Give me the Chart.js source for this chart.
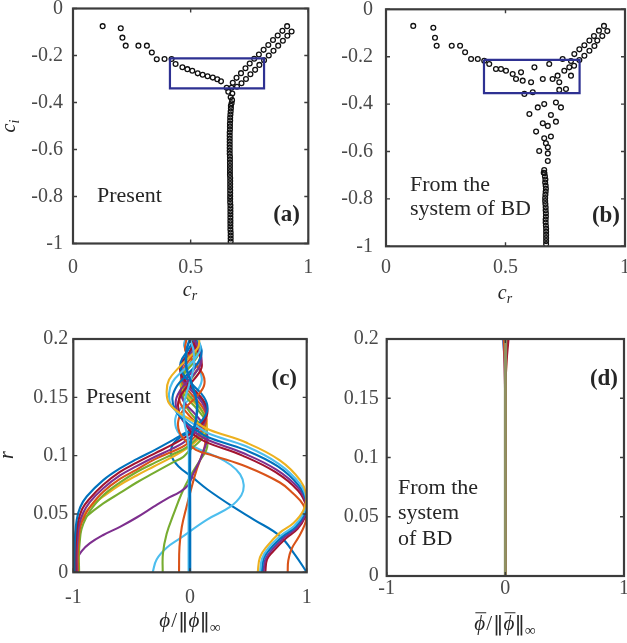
<!DOCTYPE html>
<html><head><meta charset="utf-8">
<script src="https://cdn.jsdelivr.net/npm/chart.js@4.4.1/dist/chart.umd.min.js"></script>
<style>
html,body{margin:0;padding:0;background:#fff;width:627px;height:643px;overflow:hidden;position:relative}
canvas{position:absolute;left:-20px;top:-20px;width:667px;height:683px}
</style></head><body>
<canvas id="pa" width="667" height="683"></canvas>
<canvas id="pb" width="667" height="683"></canvas>
<canvas id="pc" width="667" height="683"></canvas>
<canvas id="pd" width="667" height="683"></canvas>
<script>
// ---------- tick values / labels ----------
const crTicks = [0, 0.5, 1];
const crLabels = ['0', '0.5', '1'];
const ciTicks = [-1, -0.8, -0.6, -0.4, -0.2, 0];
const ciLabels = ['-1', '-0.8', '-0.6', '-0.4', '-0.2', '0'];
const phiTicks = [-1, 0, 1];
const phiLabels = ['-1', '0', '1'];
const rTicks = [0, 0.05, 0.1, 0.15, 0.2];
const rLabels = ['0', '0.05', '0.1', '0.15', '0.2'];

// ---------- panel (a): eigenvalues, present ----------
const specA_branch = [[0.126,-0.075],[0.203,-0.084],[0.21,-0.124],[0.224,-0.158],[0.278,-0.158],[0.314,-0.158],[0.335,-0.187],[0.356,-0.216],[0.389,-0.215],[0.419,-0.215],[0.436,-0.236],[0.465,-0.25],[0.486,-0.258],[0.507,-0.265],[0.53,-0.276],[0.551,-0.282],[0.572,-0.288],[0.594,-0.294],[0.613,-0.301],[0.629,-0.31],[0.653,-0.337],[0.674,-0.337],[0.66,-0.354],[0.677,-0.362],[0.67,-0.378],[0.676,-0.39],[0.674,-0.403],[0.671,-0.414]];
const specA_arm1 = [[0.679,-0.316],[0.695,-0.295],[0.714,-0.275],[0.733,-0.254],[0.751,-0.234],[0.770,-0.214],[0.790,-0.196],[0.810,-0.176],[0.830,-0.155],[0.850,-0.134],[0.870,-0.115],[0.890,-0.095],[0.910,-0.075]];
const specA_arm2 = [[0.697,-0.333],[0.716,-0.318],[0.735,-0.300],[0.754,-0.280],[0.774,-0.261],[0.792,-0.240],[0.812,-0.220],[0.832,-0.200],[0.852,-0.180],[0.872,-0.158],[0.892,-0.137],[0.911,-0.116],[0.929,-0.098]];
const specA_colCr = [0.671,0.670,0.669,0.668,0.668,0.667,0.667,0.667,0.666,0.666,0.666,0.666,0.666,0.666,0.666,0.666,0.667,0.667,0.667,0.667,0.667,0.667,0.667,0.668,0.668,0.668,0.668,0.668,0.668,0.668,0.668,0.668,0.669,0.669,0.669,0.669,0.669,0.669,0.669,0.669,0.669,0.670,0.670,0.670,0.670];
const specA_colCi = [-0.425,-0.438,-0.451,-0.464,-0.477,-0.490,-0.502,-0.515,-0.528,-0.541,-0.554,-0.567,-0.580,-0.593,-0.605,-0.618,-0.631,-0.644,-0.657,-0.670,-0.683,-0.696,-0.708,-0.721,-0.734,-0.747,-0.760,-0.773,-0.786,-0.799,-0.811,-0.824,-0.837,-0.850,-0.863,-0.876,-0.889,-0.902,-0.914,-0.927,-0.940,-0.953,-0.966,-0.979,-0.992];
const boxA_cr = [0.412, 0.812];
const boxA_ci = [-0.212, -0.340];

// ---------- panel (b): eigenvalues, system of BD ----------
const specB_scatter = [[0.114,-0.070],[0.198,-0.078],[0.205,-0.120],[0.212,-0.154],[0.275,-0.154],[0.310,-0.154],[0.331,-0.181],[0.356,-0.210],[0.384,-0.210],[0.411,-0.217],[0.432,-0.231],[0.460,-0.252],[0.481,-0.252],[0.502,-0.259],[0.530,-0.273],[0.565,-0.266],[0.544,-0.294],[0.572,-0.301],[0.607,-0.308],[0.621,-0.245],[0.656,-0.294],[0.683,-0.231],[0.697,-0.294],[0.718,-0.280],[0.725,-0.308],[0.739,-0.210],[0.746,-0.259],[0.767,-0.245],[0.774,-0.280],[0.774,-0.218],[0.787,-0.238],[0.579,-0.357],[0.614,-0.350],[0.725,-0.340],[0.753,-0.336],[0.635,-0.414],[0.662,-0.400],[0.711,-0.393],[0.732,-0.414],[0.600,-0.442],[0.690,-0.446],[0.656,-0.481],[0.677,-0.492],[0.711,-0.474],[0.628,-0.516],[0.662,-0.544],[0.690,-0.537],[0.669,-0.565],[0.677,-0.582],[0.641,-0.598],[0.677,-0.608],[0.677,-0.640],[0.662,-0.678],[0.660,-0.690]];
const specB_arm1 = [[0.788,-0.189],[0.809,-0.169],[0.830,-0.152],[0.851,-0.132],[0.870,-0.113],[0.891,-0.090],[0.912,-0.070]];
const specB_arm2 = [[0.809,-0.214],[0.830,-0.196],[0.851,-0.175],[0.872,-0.155],[0.884,-0.132],[0.905,-0.113],[0.926,-0.092]];
const specB_colCr = [0.663,0.665,0.667,0.666,0.668,0.669,0.668,0.667,0.666,0.666,0.667,0.668,0.668,0.669,0.669,0.668,0.668,0.669,0.670,0.670,0.670,0.670,0.670,0.670];
const specB_colCi = [-0.692,-0.705,-0.718,-0.731,-0.744,-0.757,-0.770,-0.783,-0.796,-0.809,-0.822,-0.835,-0.848,-0.861,-0.874,-0.887,-0.900,-0.913,-0.926,-0.939,-0.952,-0.965,-0.978,-0.991];
const boxB_cr = [0.410, 0.810];
const boxB_ci = [-0.213, -0.354];

// ---------- panel (c): eigenfunctions, present  [phi, r] ----------
const cR1_yellow = [[0.58,0],[0.6,0.013],[0.657,0.022],[0.771,0.034],[0.885,0.042],[0.971,0.053],[0.998,0.065],[0.943,0.079],[0.77,0.096],[0.486,0.111],[0.17,0.122],[0.06,0.128],[-0.08,0.136],[-0.18,0.145],[-0.2,0.155],[-0.18,0.165],[-0.1,0.175],[0.0,0.185],[0.07,0.193],[0.08,0.2]];
const cR2_lblue = [[0.6,0],[0.618,0.012],[0.672,0.021],[0.784,0.032],[0.895,0.04],[0.975,0.051],[0.998,0.062],[0.94,0.076],[0.76,0.093],[0.48,0.108],[0.16,0.119],[0.05,0.126],[-0.07,0.134],[-0.16,0.143],[-0.18,0.153],[-0.15,0.163],[-0.06,0.173],[0.04,0.183],[0.09,0.192],[0.07,0.2]];
const cR3_blue = [[0.615,0],[0.632,0.012],[0.686,0.02],[0.796,0.031],[0.905,0.039],[0.979,0.05],[0.998,0.06],[0.935,0.074],[0.75,0.091],[0.47,0.105],[0.15,0.116],[0.04,0.123],[-0.06,0.131],[-0.13,0.14],[-0.15,0.15],[-0.11,0.16],[-0.02,0.17],[0.07,0.18],[0.1,0.19],[0.06,0.2]];
const cR4_purple = [[0.63,0],[0.646,0.011],[0.7,0.019],[0.808,0.03],[0.913,0.038],[0.982,0.048],[0.998,0.058],[0.93,0.072],[0.74,0.088],[0.46,0.102],[0.14,0.114],[0.03,0.121],[-0.05,0.129],[-0.11,0.138],[-0.12,0.148],[-0.07,0.158],[0.02,0.168],[0.09,0.178],[0.09,0.189],[0.03,0.2]];
const cR5_red = [[0.645,0],[0.66,0.011],[0.713,0.018],[0.82,0.029],[0.92,0.037],[0.985,0.047],[0.998,0.056],[0.925,0.07],[0.73,0.086],[0.45,0.1],[0.13,0.112],[0.02,0.119],[-0.04,0.127],[-0.09,0.136],[-0.1,0.146],[-0.05,0.156],[0.04,0.166],[0.1,0.176],[0.08,0.187],[0.0,0.2]];
const cR6_orange = [[0.837,0],[0.842,0.01],[0.87,0.02],[0.93,0.03],[0.98,0.04],[0.997,0.048],[0.97,0.058],[0.88,0.068],[0.77,0.077],[0.486,0.0905],[0.2,0.1],[0.05,0.105],[-0.03,0.112],[-0.09,0.12],[-0.1,0.13],[-0.05,0.14],[0.05,0.15],[0.12,0.16],[0.11,0.17],[0.03,0.18],[-0.04,0.19],[-0.03,0.2]];
const cL1_blue = [[-0.99,0],[-0.99,0.015],[-0.985,0.03],[-0.971,0.045],[-0.94,0.056],[-0.885,0.065],[-0.743,0.079],[-0.6,0.089],[-0.457,0.097],[-0.3,0.105],[-0.171,0.112],[-0.086,0.117],[0.0,0.122],[0.1,0.13],[0.15,0.14],[0.12,0.15],[0.03,0.16],[-0.06,0.17],[-0.08,0.18],[-0.02,0.19],[0.04,0.2]];
const cL2_red = [[-0.98,0],[-0.982,0.015],[-0.975,0.03],[-0.96,0.043],[-0.925,0.054],[-0.87,0.062],[-0.743,0.075],[-0.6,0.086],[-0.457,0.094],[-0.3,0.102],[-0.16,0.109],[-0.07,0.114],[0.02,0.12],[0.11,0.128],[0.15,0.138],[0.11,0.148],[0.02,0.158],[-0.07,0.168],[-0.08,0.178],[-0.01,0.188],[0.05,0.2]];
const cL3_purple = [[-0.97,0],[-0.972,0.015],[-0.965,0.028],[-0.95,0.041],[-0.915,0.051],[-0.86,0.06],[-0.743,0.072],[-0.6,0.083],[-0.457,0.091],[-0.3,0.099],[-0.15,0.106],[-0.06,0.111],[0.03,0.118],[0.11,0.126],[0.14,0.136],[0.1,0.146],[0.01,0.156],[-0.07,0.166],[-0.07,0.176],[0.0,0.186],[0.06,0.196],[0.06,0.2]];
const cL4_red = [[-0.96,0],[-0.962,0.015],[-0.955,0.027],[-0.94,0.039],[-0.9,0.049],[-0.85,0.057],[-0.743,0.069],[-0.6,0.08],[-0.457,0.088],[-0.3,0.097],[-0.14,0.104],[-0.04,0.109],[0.04,0.116],[0.12,0.124],[0.14,0.134],[0.09,0.144],[0.0,0.154],[-0.07,0.164],[-0.06,0.174],[0.01,0.184],[0.07,0.194],[0.07,0.2]];
const cL5_green = [[-0.95,0],[-0.952,0.015],[-0.945,0.026],[-0.93,0.037],[-0.89,0.047],[-0.84,0.055],[-0.743,0.066],[-0.6,0.077],[-0.457,0.086],[-0.3,0.094],[-0.13,0.102],[-0.03,0.107],[0.05,0.114],[0.12,0.122],[0.13,0.132],[0.08,0.142],[-0.01,0.152],[-0.07,0.162],[-0.05,0.172],[0.02,0.182],[0.07,0.192],[0.06,0.2]];
const cL6_yellow = [[-0.985,0],[-0.985,0.015],[-0.98,0.025],[-0.965,0.036],[-0.93,0.046],[-0.857,0.056],[-0.743,0.065],[-0.6,0.075],[-0.457,0.083],[-0.314,0.0905],[-0.15,0.099],[-0.029,0.106],[0.06,0.113],[0.13,0.121],[0.14,0.131],[0.08,0.141],[-0.02,0.151],[-0.08,0.161],[-0.06,0.171],[0.02,0.181],[0.08,0.191],[0.07,0.2]];
const cL7_green = [[-0.99,0],[-0.99,0.01],[-0.985,0.0305],[-0.96,0.04],[-0.885,0.048],[-0.743,0.059],[-0.6,0.068],[-0.457,0.077],[-0.314,0.085],[-0.15,0.094],[-0.057,0.099],[0.0,0.105],[0.08,0.112],[0.14,0.12],[0.13,0.13],[0.06,0.14],[-0.03,0.15],[-0.08,0.16],[-0.05,0.17],[0.03,0.18],[0.08,0.19],[0.05,0.2]];
const cL8_purple = [[-0.975,0],[-0.971,0.0105],[-0.93,0.018],[-0.857,0.025],[-0.743,0.032],[-0.6,0.039],[-0.457,0.047],[-0.314,0.056],[-0.2,0.063],[-0.086,0.069],[-0.014,0.075],[0.03,0.085],[0.09,0.097],[0.13,0.108],[0.15,0.116],[0.12,0.126],[0.04,0.136],[-0.05,0.146],[-0.08,0.156],[-0.03,0.166],[0.05,0.176],[0.09,0.186],[0.05,0.196],[0.03,0.2]];
const cM_green = [[-0.234,0],[-0.232,0.016],[-0.2,0.033],[-0.14,0.05],[-0.07,0.068],[0.0,0.082],[0.086,0.096],[0.14,0.105],[0.15,0.113],[0.13,0.121],[0.06,0.13],[-0.02,0.14],[-0.06,0.15],[-0.03,0.16],[0.04,0.17],[0.09,0.18],[0.07,0.19],[0.02,0.2]];
const cM_orange = [[-0.094,0],[-0.09,0.022],[-0.07,0.039],[-0.03,0.056],[0.014,0.073],[0.057,0.088],[0.1,0.1],[0.13,0.11],[0.12,0.118],[0.06,0.127],[-0.03,0.137],[-0.09,0.147],[-0.07,0.157],[0.01,0.167],[0.08,0.177],[0.08,0.187],[0.02,0.197],[0.0,0.2]];
const cM_lblue = [[-0.32,0],[-0.286,0.011],[-0.2,0.021],[-0.086,0.029],[0.143,0.045],[0.343,0.056],[0.44,0.066],[0.46,0.075],[0.43,0.084],[0.35,0.092],[0.229,0.099],[0.086,0.105],[0.0,0.11],[-0.07,0.116],[-0.12,0.124],[-0.12,0.134],[-0.05,0.144],[0.05,0.154],[0.1,0.164],[0.08,0.174],[0.0,0.184],[-0.05,0.194],[-0.04,0.2]];
const cM_blueDiag = [[1.0,0],[0.9,0.015],[0.771,0.031],[0.55,0.045],[0.371,0.056],[0.15,0.071],[0.014,0.082],[-0.1,0.091],[-0.16,0.1],[-0.15,0.109],[-0.08,0.116],[0.02,0.121],[0.1,0.128],[0.14,0.137],[0.11,0.147],[0.02,0.157],[-0.06,0.167],[-0.07,0.177],[-0.01,0.187],[0.05,0.197],[0.05,0.2]];
const cV_blue = [[0.0,0],[0.0,0.05],[0.0,0.1],[0.01,0.115],[0.05,0.13],[0.06,0.145],[0.02,0.16],[-0.03,0.175],[-0.03,0.19],[0.0,0.2]];
const cV_lblue = [[-0.012,0],[-0.012,0.05],[-0.01,0.1],[-0.02,0.115],[-0.05,0.13],[-0.05,0.145],[-0.01,0.16],[0.03,0.175],[0.03,0.19],[0.0,0.2]];

// ---------- panel (d): eigenfunctions, system of BD ----------
const dF1 = [[0,0],[0,0.1],[0,0.15],[0.003,0.18],[0.008,0.2]];
const dF2 = [[0,0],[0,0.1],[0,0.15],[-0.004,0.18],[-0.01,0.2]];
const dF3 = [[0,0],[0,0.1],[0,0.15],[0.006,0.18],[0.015,0.2]];
const dF4 = [[0,0],[0,0.1],[0,0.15],[-0.006,0.18],[-0.015,0.2]];
const dF5 = [[0,0],[0,0.1],[0,0.15],[0.002,0.18],[0.02,0.2]];
const dF6 = [[0,0],[0,0.1],[0,0.15],[-0.002,0.18],[-0.02,0.2]];
const dF7 = [[0,0],[0,0.1],[0,0.16],[0.008,0.18],[0.025,0.2]];
const dF8 = [[0,0],[0,0.1],[0,0.16],[0.001,0.18],[0.004,0.2]];

// ---------- styling ----------
const COL = {blue:'#0072BD', orange:'#D95319', yellow:'#EDB120', purple:'#7E2F8E', green:'#77AC30', lblue:'#4DBEEE', red:'#A2142F', olive:'#8f9163'};
const FONT = "'Liberation Serif','DejaVu Serif',serif";
const TXT = '#262626';
const OFF = 20, CW = 667, CH = 683;
const extras = {};

function drawRich(ctx, parts, x, y, align, rot) {
  ctx.save();
  ctx.translate(x, y);
  if (rot) ctx.rotate(rot);
  ctx.textBaseline = 'alphabetic';
  ctx.textAlign = 'left';
  const fontOf = p => (p.b ? 'bold ' : '') + (p.i ? 'italic ' : '') + p.s + 'px ' + (p.f || FONT);
  const ws = [];
  let w = 0;
  for (const p of parts) {
    ctx.font = fontOf(p);
    const m = ctx.measureText(p.t).width;
    ws.push(m); w += m + (p.g || 0);
  }
  let cx = align === 'center' ? -w / 2 : (align === 'right' ? -w : 0);
  parts.forEach((p, k) => {
    ctx.font = fontOf(p);
    ctx.fillStyle = TXT;
    ctx.fillText(p.t, cx, p.dy || 0);
    if (p.o) {
      ctx.strokeStyle = TXT; ctx.lineWidth = 1;
      ctx.beginPath(); ctx.moveTo(cx + 1, -p.s * 0.82); ctx.lineTo(cx + ws[k] + 1, -p.s * 0.82); ctx.stroke();
    }
    cx += ws[k] + (p.g || 0);
  });
  ctx.restore();
}

const framePlugin = {
  id: 'frame',
  afterDatasetsDraw(chart) {
    const ex = extras[chart.canvas.id];
    const {ctx, chartArea: a} = chart;
    const sx = chart.scales.x, sy = chart.scales.y;
    ctx.save();
    ctx.strokeStyle = '#3c3c3c';
    ctx.lineWidth = 1.4;
    ctx.beginPath();
    for (const v of ex.xTicks) { const p = sx.getPixelForValue(v); ctx.moveTo(p, a.bottom); ctx.lineTo(p, a.bottom - 4); ctx.moveTo(p, a.top); ctx.lineTo(p, a.top + 4); }
    for (const v of ex.yTicks) { const p = sy.getPixelForValue(v); ctx.moveTo(a.left, p); ctx.lineTo(a.left + 4, p); ctx.moveTo(a.right, p); ctx.lineTo(a.right - 4, p); }
    ctx.stroke();
    ctx.lineWidth = 2.2;
    ctx.strokeRect(a.left, a.top, a.right - a.left, a.bottom - a.top);
    ctx.restore();
    for (const t of ex.texts) drawRich(ctx, t.parts, t.x + OFF, t.y + OFF, t.align || 'left', t.rot || 0);
  }
};

function panel(id, area, cfg) {
  const yW = 70, xH = 70;
  extras[id] = cfg;
  const tickFont = {family: FONT, size: 20};
  return new Chart(document.getElementById(id), {
    type: 'scatter',
    data: {datasets: cfg.datasets},
    options: {
      responsive: false, animation: false, devicePixelRatio: 1, events: [],
      layout: {padding: {left: OFF + area.L - yW, top: OFF + area.T, right: CW - OFF - area.R, bottom: CH - OFF - area.B - xH}},
      plugins: {legend: {display: false}, tooltip: {enabled: false}},
      scales: {
        x: {type: 'linear', min: cfg.xTicks[0], max: cfg.xTicks[cfg.xTicks.length - 1],
          grid: {display: false, drawTicks: false}, border: {display: false},
          ticks: {autoSkip: false, maxRotation: 0, font: tickFont, color: '#4a4a4a', padding: cfg.xPad, callback: (v, i) => cfg.xLabels[i]},
          afterBuildTicks: s => { s.ticks = cfg.xTicks.map(v => ({value: v})); },
          afterFit: s => { s.height = xH; }},
        y: {type: 'linear', min: cfg.yTicks[0], max: cfg.yTicks[cfg.yTicks.length - 1],
          grid: {display: false, drawTicks: false}, border: {display: false},
          ticks: {autoSkip: false, font: tickFont, color: '#4a4a4a', padding: cfg.yPad, callback: (v, i) => cfg.yLabels[i]},
          afterBuildTicks: s => { s.ticks = cfg.yTicks.map(v => ({value: v})); },
          afterFit: s => { s.width = yW; }}
      }
    },
    plugins: [framePlugin]
  });
}

function pts(d) { return {data: d, pointStyle: 'circle', pointRadius: 2.4, borderWidth: 1.3, borderColor: '#111', backgroundColor: 'rgba(0,0,0,0)', showLine: false}; }
function colPts(cr, ci) { return ci.map((v, i) => [cr[i], v]); }
function box(cr, ci) { return {data: [[cr[0], ci[0]], [cr[1], ci[0]], [cr[1], ci[1]], [cr[0], ci[1]], [cr[0], ci[0]]], showLine: true, borderColor: '#2E3192', borderWidth: 2.2, pointRadius: 0, tension: 0}; }
function curve(d, c, w) { return {data: d, showLine: true, borderColor: c, borderWidth: w || 2.1, pointRadius: 0, tension: 0.4, fill: false}; }

const crTitle = [{t: 'c', i: true, s: 20}, {t: 'r', i: true, s: 14, dy: 4}];
const ciTitle = [{t: 'c', i: true, s: 20}, {t: 'i', i: true, s: 14, dy: 4}];

panel('pa', {L: 73, T: 8.5, R: 308.3, B: 243.5}, {
  xTicks: crTicks, xLabels: crLabels, yTicks: ciTicks, yLabels: ciLabels, xPad: 12, yPad: 10,
  datasets: [box(boxA_cr, boxA_ci), pts(specA_branch), pts(specA_arm1), pts(specA_arm2), pts(colPts(specA_colCr, specA_colCi))],
  texts: [
    {parts: crTitle, x: 190, y: 296, align: 'center'},
    {parts: ciTitle, x: 15, y: 126, align: 'center', rot: -Math.PI / 2},
    {parts: [{t: 'Present', s: 22}], x: 97, y: 202},
    {parts: [{t: '(a)', s: 23, b: true}], x: 300, y: 221, align: 'right'}
  ]
});

panel('pb', {L: 386, T: 9.3, R: 625, B: 246.3}, {
  xTicks: crTicks, xLabels: crLabels, yTicks: ciTicks, yLabels: ciLabels, xPad: 9, yPad: 13,
  datasets: [box(boxB_cr, boxB_ci), pts(specB_scatter), pts(specB_arm1), pts(specB_arm2), pts(colPts(specB_colCr, specB_colCi))],
  texts: [
    {parts: crTitle, x: 505, y: 299, align: 'center'},
    {parts: [{t: 'From the', s: 22}], x: 410, y: 191},
    {parts: [{t: 'system of BD', s: 22}], x: 410, y: 215},
    {parts: [{t: '(b)', s: 23, b: true}], x: 620, y: 222, align: 'right'}
  ]
});

const NF = "'DejaVu Serif',serif";
const phiTitle = [{t: 'ϕ', i: true, s: 21, g: 1}, {t: '/', s: 21, g: 1}, {t: '‖', s: 21, f: NF, g: 0}, {t: 'ϕ', i: true, s: 21, g: 0}, {t: '‖', s: 21, f: NF, g: 0}, {t: '∞', s: 15, dy: 5}];
const phiBarTitle = [{t: 'ϕ', i: true, s: 21, o: true, g: 1}, {t: '/', s: 21, g: 1}, {t: '‖', s: 21, f: NF, g: 0}, {t: 'ϕ', i: true, s: 21, o: true, g: 0}, {t: '‖', s: 21, f: NF, g: 0}, {t: '∞', s: 15, dy: 5}];

panel('pc', {L: 73.3, T: 339, R: 306.7, B: 572.3}, {
  xTicks: phiTicks, xLabels: phiLabels, yTicks: rTicks, yLabels: rLabels, xPad: 13, yPad: 5,
  datasets: [
    curve(cV_blue, COL.blue, 2.6), curve(cV_lblue, COL.lblue),
    curve(cR1_yellow, COL.yellow), curve(cR2_lblue, COL.lblue), curve(cR3_blue, COL.blue), curve(cR4_purple, COL.purple), curve(cR5_red, COL.red), curve(cR6_orange, COL.orange),
    curve(cL1_blue, COL.blue), curve(cL2_red, COL.red), curve(cL3_purple, COL.purple), curve(cL4_red, COL.orange), curve(cL5_green, COL.green), curve(cL6_yellow, COL.yellow), curve(cL7_green, COL.green), curve(cL8_purple, COL.purple),
    curve(cM_green, COL.green), curve(cM_orange, COL.orange), curve(cM_lblue, COL.lblue), curve(cM_blueDiag, COL.blue)
  ],
  texts: [
    {parts: phiTitle, x: 190, y: 627, align: 'center'},
    {parts: [{t: 'r', i: true, s: 20}], x: 13, y: 455, align: 'center', rot: -Math.PI / 2},
    {parts: [{t: 'Present', s: 22}], x: 86, y: 403},
    {parts: [{t: '(c)', s: 23, b: true}], x: 297, y: 385, align: 'right'}
  ]
});

// Chart.js paints dataset 0 last (on top), so the olive trace goes first
panel('pd', {L: 386.7, T: 339, R: 624, B: 576}, {
  xTicks: phiTicks, xLabels: phiLabels, yTicks: rTicks, yLabels: rLabels, xPad: 1, yPad: 8,
  datasets: [
    curve(dF8, COL.olive, 3), curve(dF7, COL.red, 2.5), curve(dF3, COL.yellow, 2.5), curve(dF5, COL.green, 2.5),
    curve(dF2, COL.orange, 2.5), curve(dF4, COL.purple, 2.5), curve(dF6, COL.lblue, 2.5), curve(dF1, COL.blue, 2.5)
  ],
  texts: [
    {parts: phiBarTitle, x: 505, y: 630, align: 'center'},
    {parts: [{t: 'From the', s: 22}], x: 398, y: 494},
    {parts: [{t: 'system', s: 22}], x: 398, y: 519},
    {parts: [{t: 'of BD', s: 22}], x: 398, y: 545},
    {parts: [{t: '(d)', s: 23, b: true}], x: 618, y: 385, align: 'right'}
  ]
});
</script>
</body></html>
